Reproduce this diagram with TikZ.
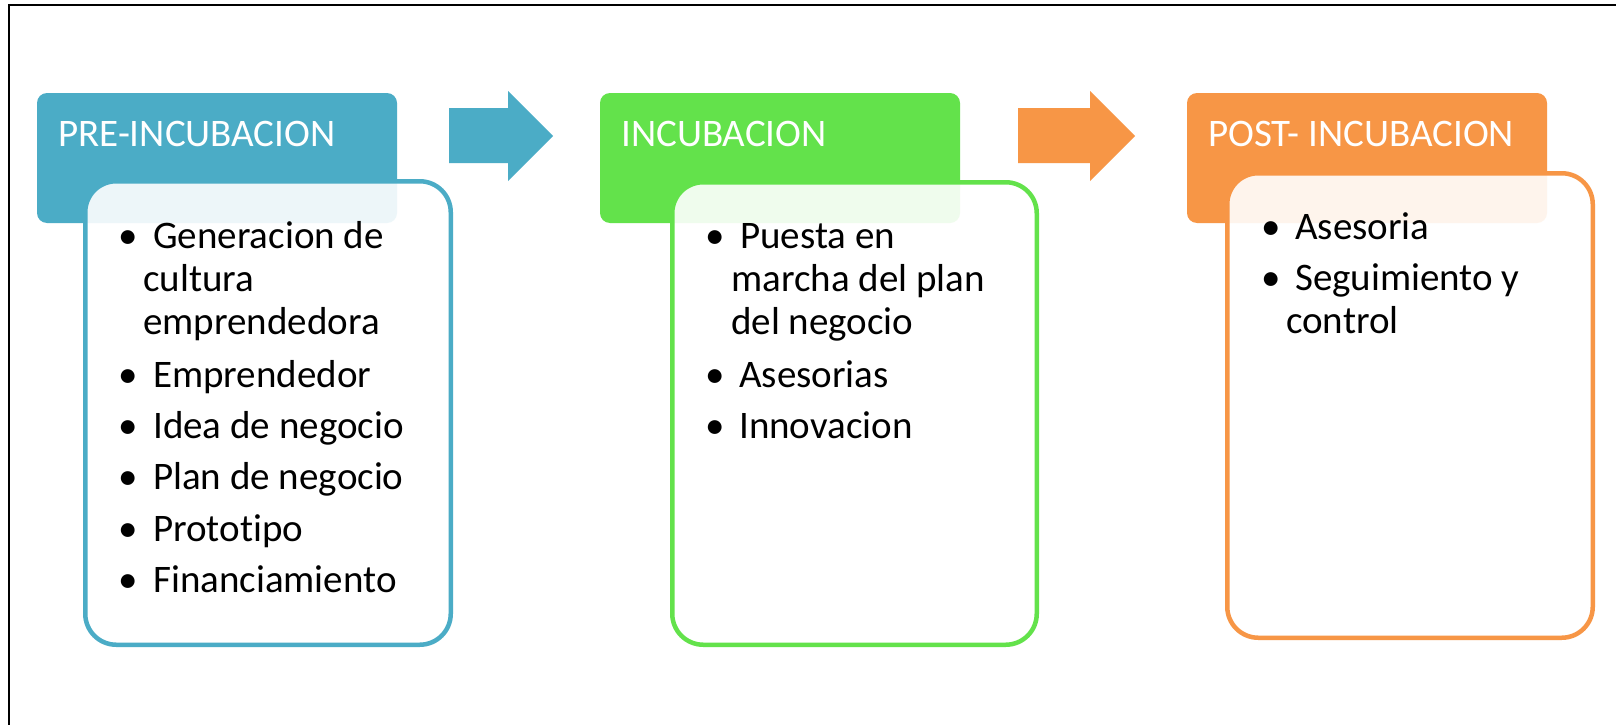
\documentclass[tikz,border=0pt]{standalone}
\usepackage{fontspec}
\setmainfont{Carlito}[Ligatures={NoCommon}]
\definecolor{cblue}{HTML}{4BACC6}
\definecolor{cgreen}{HTML}{63E24B}
\definecolor{corange}{HTML}{F79646}
\begin{document}
\begin{tikzpicture}[x=1pt,y=-1pt,
  hdr/.style={rounded corners=10pt},
  body/.style={line width=4.5pt,rounded corners=31pt,fill=white,fill opacity=0.9},
  htext/.style={anchor=base west,inner sep=0pt,text=white,font=\fontsize{39}{43}\selectfont},
  btext/.style={anchor=base west,inner sep=0pt,text=black,font=\fontsize{39}{43}\selectfont},
  bul/.style={anchor=base,inner sep=0pt,text=black,font=\fontsize{39}{43}\selectfont}]
\useasboundingbox (0,0) rectangle (1616,725);
\fill[white] (0,0) rectangle (1616,725);
% frame
\draw[line width=2pt] (9,725) -- (9,5.5) -- (1616,5.5);
% arrows
\fill[cblue] (449,108) -- (508,108) -- (508,91) -- (553,136) -- (508,181) -- (508,163) -- (449,163) -- cycle;
\fill[corange] (1018,108) -- (1090,108) -- (1090,91) -- (1135,136) -- (1090,181) -- (1090,163) -- (1018,163) -- cycle;
% headers
\fill[cblue,hdr] (37,93) rectangle (397,223);
\fill[cgreen,hdr] (600,93) rectangle (960,223);
\fill[corange,hdr] (1187,93) rectangle (1547,223);
% bodies
\draw[cblue,body] (85.25,181.25) rectangle (450.75,644.75);
\draw[cgreen,body] (672.25,182.25) rectangle (1036.75,644.75);
\draw[corange,body] (1227.25,173.25) rectangle (1592.75,637.75);
% header texts
\node[htext] (h1) at (58,146) {PRE-INCUBACION};
\node[htext] (h2) at (621,146) {INCUBACION};
\node[htext] (h3) at (1208,146) {POST- INCUBACION};
% blue texts
\node[bul] (a1b) at (128,248) {•};
\node[btext] (a1) at (153,248) {Generacion de};
\node[btext] (a1c) at (143,291) {cultura};
\node[btext] (a1d) at (143,334) {emprendedora};
\node[bul] (a2b) at (128,387) {•};
\node[btext] (a2) at (153,387) {Emprendedor};
\node[bul] (a3b) at (128,438) {•};
\node[btext] (a3) at (153,438) {Idea de negocio};
\node[bul] (a4b) at (128,489.5) {•};
\node[btext] (a4) at (153,489.5) {Plan de negocio};
\node[bul] (a5b) at (128,541) {•};
\node[btext] (a5) at (153,541) {Prototipo};
\node[bul] (a6b) at (128,592) {•};
\node[btext] (a6) at (153,592) {Financiamiento};
% green texts
\node[bul] (g1b) at (715,248) {•};
\node[btext] (g1) at (740,248) {Puesta en};
\node[btext] (g1c) at (731,291) {marcha del plan};
\node[btext] (g1d) at (731,334) {del negocio};
\node[bul] (g2b) at (715,387) {•};
\node[btext] (g2) at (739,387) {Asesorias};
\node[bul] (g3b) at (715,438) {•};
\node[btext] (g3) at (739,438) {Innovacion};
% orange texts
\node[bul] (o1b) at (1271,239) {•};
\node[btext] (o1) at (1295,239) {Asesoria};
\node[bul] (o2b) at (1271,290) {•};
\node[btext] (o2) at (1295,290) {Seguimiento y};
\node[btext] (o2c) at (1286,333) {control};
\end{tikzpicture}
\end{document}
